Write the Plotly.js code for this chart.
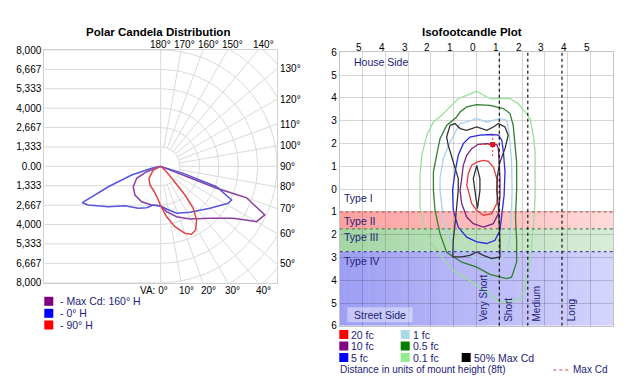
<!DOCTYPE html>
<html><head><meta charset="utf-8">
<script src="https://cdn.plot.ly/plotly-3.0.1.min.js"></script>
<style>html,body{margin:0;padding:0;background:#fff;}#chart{width:633px;height:376px;}</style>
</head><body><div id="chart"></div>
<script>
// ---------------- DATA ----------------
// Polar candela: vertical angle (deg, 0 = nadir; negative = opposite half-plane), candela
const maxCdAngles = [90, 69.0, 68.6, 69.9, 65.0, 60.0, 54.4, 43.5, 29.1, 17.6, 7.5, 0, -13.1, -28.2, -41.8, -53.3, -63.4, -68.9, -90];
const maxCdValues = [0, 1660, 4130, 6290, 7900, 7610, 6130, 4920, 4140, 3630, 3140, 2730, 2730, 2760, 2650, 2350, 1840, 1030, 0];
const h0Angles = [90, 72.8, 70.0, 64.6, 61.3, 49.6, 32.5, 18.8, 8.0, 0, -10.8, -18.7, -28.1, -42.2, -52.4, -61.9, -65.1, -68.7, -73.3, -77.5, -90];
const h0Values = [0, 1630, 4090, 5400, 5290, 4450, 3750, 3410, 2960, 2730, 2710, 3000, 3270, 3650, 4540, 5640, 5940, 3860, 2080, 630, 0];
const h90Angles = [90, 49.3, 42.6, 40.3, 37.8, 33.8, 28.8, 24.5, 19.9, 13.3, 6.8, 0, -5.4, -14.1, -29.8, -44.3, -63.4, -90];
const h90Values = [0, 390, 1280, 2580, 3650, 4440, 4990, 5130, 4890, 4260, 3490, 2730, 2210, 1800, 1480, 1150, 570, 0];
const polarNames = ['- Max Cd: 160\u00b0 H', '- 0\u00b0 H', '- 90\u00b0 H'];
const cdMax = 8000;
const cdTickLabels = ['8,000','6,667','5,333','4,000','2,667','1,333','0.00','1,333','2,667','4,000','5,333','6,667','8,000'];
const vaLabelAngles = [0,10,20,30,40,50,60,70,80,90,100,110,120,130,140,150,160,170,180];

// Isofootcandle contours (mounting heights; x lateral, y + house side / - street side)
const fc01X = [0.01,0.59,1.47,1.83,2.13,2.35,2.49,2.57,2.57,2.57,2.52,2.40,2.25,2.10,1.90,1.50,1.03,0.45,-0.43,-1.02,-1.53,-1.96,-2.33,-2.48,-2.48,-2.40,-2.18,-1.89,-1.53,-1.16,-0.80,-0.43,0.01];
const fc01Y = [4.29,3.96,3.96,3.75,3.38,3.09,2.36,1.62,0.75,-0.28,-1.37,-2.69,-3.71,-4.44,-4.83,-4.93,-4.97,-4.52,-3.93,-3.57,-2.98,-2.39,-1.52,-0.79,0.60,1.48,2.36,2.94,3.23,3.60,3.96,4.11,4.29];
const fc05X = [0.01,0.59,1.18,1.47,1.61,1.69,1.76,1.76,1.71,1.76,1.76,1.54,1.32,0.59,0.01,-0.64,-1.31,-1.60,-1.82,-1.89,-1.89,-1.75,-1.60,-1.31,-0.87,-0.72,-0.43,0.01];
const fc05Y = [3.70,3.67,3.53,3.31,2.79,2.06,1.18,-0.06,-1.23,-2.25,-3.21,-3.87,-3.93,-3.74,-3.43,-3.21,-2.78,-1.96,-0.93,-0.06,0.75,1.48,2.21,2.79,3.16,3.38,3.60,3.70];
const fc1X = [0.01,0.45,1.03,1.32,1.39,1.47,1.54,1.56,1.54,1.47,1.32,1.03,0.45,-0.43,-1.02,-1.31,-1.46,-1.60,-1.60,-1.46,-1.16,-0.94,-0.72,-0.43,0.01];
const fc1Y = [3.09,2.94,3.09,3.01,2.72,2.06,1.18,-0.06,-0.93,-2.11,-2.83,-3.13,-3.13,-2.91,-2.54,-1.81,-1.23,-0.06,0.46,1.33,2.06,2.50,2.87,2.94,3.09];
const fc5X = [0.15,0.67,0.96,1.11,1.18,1.25,1.21,1.11,1.03,0.81,0.45,0.01,-0.43,-0.80,-1.02,-1.05,-0.94,-0.80,-0.58,-0.29,0.15];
const fc5Y = [2.36,2.39,2.36,2.14,1.62,0.75,-0.28,-1.23,-1.81,-2.25,-2.39,-2.32,-2.11,-1.67,-0.93,-0.06,0.75,1.48,1.99,2.28,2.36];
const fc10X = [0.45,0.89,0.96,1.00,1.03,1.03,0.96,0.74,0.30,-0.14,-0.43,-0.65,-0.72,-0.65,-0.58,-0.43,-0.21,0.07,0.45];
const fc10Y = [1.99,1.95,1.77,1.18,0.46,-0.35,-1.08,-1.52,-1.67,-1.52,-1.23,-0.64,-0.06,0.46,1.04,1.48,1.77,1.96,1.99];
const fc20X = [0.30,0.52,0.74,0.89,0.92,0.89,0.67,0.30,0.01,-0.21,-0.36,-0.43,-0.36,-0.21,0.01,0.30];
const fc20Y = [1.26,1.21,0.96,0.46,-0.28,-0.64,-1.08,-1.15,-0.93,-0.64,-0.06,0.16,0.68,1.04,1.18,1.26];
const halfMaxX = [-1.16,-0.94,-0.72,-0.43,0.01,0.45,0.74,0.96,1.25,1.39,1.25,1.03,0.92,0.89,0.96,1.00,1.03,1.03,0.67,0.30,0.01,-0.29,-0.65,-1.04,-1.02,-0.94,-0.87,-0.80,-0.80,-1.02,-1.24,-1.31,-1.16,null,0.01,0.15,0.15,0.04,-0.07,-0.14,0.01];
const halfMaxY = [2.79,2.87,2.65,2.57,2.72,2.57,2.72,2.87,2.72,2.36,1.77,1.18,0.60,-0.06,-0.79,-1.52,-2.25,-2.98,-3.05,-2.91,-2.76,-2.91,-2.98,-2.98,-2.25,-1.52,-0.79,-0.06,0.46,1.18,1.92,2.28,2.79,null,1.04,0.46,-0.06,-0.86,-0.06,0.46,1.04];
const maxCdPoint = {x:[0.71], y:[1.95]};
const isoNames = ['20 fc','10 fc','5 fc','1 fc','0.5 fc','0.1 fc','50% Max Cd'];
const typeBounds = [1, 1.75, 2.75];           // street-side distances
const typeNames = ['Type I','Type II','Type III','Type IV'];
const rangeBounds = [1, 2.25, 3.75];
const rangeNames = ['Very Short','Short','Medium','Long'];
const isoTickVals = [-5,-4,-3,-2,-1,0,1,2,3,4,5];
const isoTickLabels = ['5','4','3','2','1','0','1','2','3','4','5'];
const isoYTickVals = [6,5,4,3,2,1,0,-1,-2,-3,-4,-5,-6];
const isoYTickLabels = ['6','5','4','3','2','1','0','1','2','3','4','5','6'];

// ---------------- LAYOUT HELPERS ----------------
const W = 633, H = 376;
const FONT = 'Liberation Sans, Arial, sans-serif';
const NAVY = '#22227a';
const px = p => p / W, py = p => 1 - p / H;
const polarDom = {x:[px(44.3), px(277)], y:[py(282.7), py(50)]};
const isoDom = {x:[px(339.7), px(613.3)], y:[py(325.8), py(52.2)]};
const GRID = '#d9d9d9';

function polarXY(angles, vals){
  const x=[], y=[];
  angles.forEach((a,i)=>{ const t=Math.abs(a)*Math.PI/180, s=a<0?-1:1; x.push(s*vals[i]*Math.sin(t)); y.push(-vals[i]*Math.cos(t)); });
  return {x,y};
}

const traces = [];
// polar grid rings and radials
const ring = cdMax/6;
const rx=[], ry=[];
for(let k=1;k<=9;k++){ for(let a=0;a<=180;a+=2){ const t=a*Math.PI/180; rx.push(k*ring*Math.sin(t)); ry.push(-k*ring*Math.cos(t)); } rx.push(null); ry.push(null); }
for(let a=10;a<=170;a+=10){ const t=a*Math.PI/180; rx.push(ring*Math.sin(t), 3*cdMax*Math.sin(t), null); ry.push(-ring*Math.cos(t), -3*cdMax*Math.cos(t), null); }
rx.push(0,0,null); ry.push(-cdMax,cdMax,null);
const cdTickVals = cdTickLabels.map((_,i)=>cdMax - i*cdMax/6);
cdTickVals.forEach(v=>{ rx.push(-cdMax,0,null); ry.push(v,v,null); });
traces.push({x:rx,y:ry,mode:'lines',line:{color:GRID,width:1},hoverinfo:'skip',xaxis:'x',yaxis:'y'});

const polarSets = [[maxCdAngles,maxCdValues,'#8b3f9f'],[h0Angles,h0Values,'#5656dc'],[h90Angles,h90Values,'#e04545']];
polarSets.forEach(([a,v,c],i)=>{ const p=polarXY(a,v); traces.push({x:p.x,y:p.y,mode:'lines',name:polarNames[i],line:{color:c,width:1.5},xaxis:'x',yaxis:'y',hoverinfo:'skip'}); });

// iso contours
const isoSets = [[fc01X,fc01Y,'#98e098'],[fc05X,fc05Y,'#2f7f2f'],[fc1X,fc1Y,'#a9d3ea'],[fc5X,fc5Y,'#2a2ae0'],[fc10X,fc10Y,'#7f1f85'],[fc20X,fc20Y,'#e83a3a'],[halfMaxX,halfMaxY,'#333333']];
isoSets.forEach(([x,y,c])=>traces.push({x,y,mode:'lines',line:{color:c,width:1.3},xaxis:'x2',yaxis:'y2',hoverinfo:'skip',connectgaps:false}));
traces.push({x:maxCdPoint.x,y:maxCdPoint.y,mode:'markers',marker:{symbol:'square',size:5,color:'#dd1111'},xaxis:'x2',yaxis:'y2',hoverinfo:'skip'});

// ---------------- SHAPES ----------------
const shapes = [];
function lerp(c1,c2,t){ return 'rgb('+c1.map((v,i)=>Math.round(v+(c2[i]-v)*t)).join(',')+')'; }
const bandColors = [[[255,160,160],[255,218,218]],[[164,214,164],[216,236,216]],[[158,158,244],[212,212,252]]];
const bandEdges = [-typeBounds[0], -typeBounds[1], -typeBounds[2], -6];
const N = 48;
for(let b=0;b<3;b++){
  for(let i=0;i<N;i++){
    const x0=-6+12*i/N, x1=-6+12*(i+1)/N+0.02;
    shapes.push({type:'rect',xref:'x2',yref:'y2',x0,x1,y0:bandEdges[b+1],y1:bandEdges[b],fillcolor:lerp(bandColors[b][0],bandColors[b][1],i/(N-1)),line:{width:0},layer:'below'});
  }
}
const typeLineColors = ['#c25a5a','#4f8a4f','#4a4aa8'];
typeBounds.forEach((b,i)=>shapes.push({type:'line',xref:'x2',yref:'y2',x0:-6,x1:6,y0:-b,y1:-b,line:{color:typeLineColors[i],width:1.2,dash:'3px,3px'}}));
rangeBounds.forEach(b=>shapes.push({type:'line',xref:'x2',yref:'y2',x0:b,x1:b,y0:-6,y1:6,line:{color:'#111',width:1.2,dash:'3px,3px'}}));
// max cd crosshair
shapes.push({type:'line',xref:'x2',yref:'y2',x0:maxCdPoint.x[0]-0.55,x1:maxCdPoint.x[0],y0:maxCdPoint.y[0],y1:maxCdPoint.y[0],line:{color:'#dd3333',width:1,dash:'2px,2px'}});
shapes.push({type:'line',xref:'x2',yref:'y2',x0:maxCdPoint.x[0],x1:maxCdPoint.x[0],y0:maxCdPoint.y[0]-0.5,y1:maxCdPoint.y[0]+0.45,line:{color:'#dd3333',width:1,dash:'2px,2px'}});
// street side box
shapes.push({type:'rect',xref:'paper',yref:'paper',x0:px(347.3),x1:px(412.7),y0:py(322.3),y1:py(307.3),fillcolor:'rgba(255,255,255,0.4)',line:{width:0}});

// ---------------- ANNOTATIONS ----------------
const annotations = [];
function A(text,x,y,o){ annotations.push(Object.assign({xref:'paper',yref:'paper',x:px(x),y:py(y),text,showarrow:false,xanchor:'left',yanchor:'middle',font:{family:FONT,size:10,color:'#000'}},o||{})); }
A('<b>Polar Candela Distribution</b>',158.3,32.3,{xanchor:'center',font:{family:FONT,size:11.5,color:'#000'}});
A('<b>Isofootcandle Plot</b>',471.7,32.3,{xanchor:'center',font:{family:FONT,size:11.5,color:'#000'}});
// iso top tick labels
isoTickVals.forEach((v,i)=>annotations.push({xref:'x2',yref:'paper',x:v,y:py(47.5),xshift:-3.5,text:isoTickLabels[i],showarrow:false,xanchor:'center',yanchor:'middle',font:{family:FONT,size:10,color:'#000'}}));
// polar angle labels
vaLabelAngles.forEach(a=>{
  const t=a*Math.PI/180; let o;
  if(a<=40){ o={xref:'x',yref:'y',x:cdMax*Math.tan(t),y:-cdMax,xanchor:'center',yanchor:'top',xshift:a===0?0:5,text:a===0?'VA: 0\u00b0':a+'\u00b0'}; if(a===0){o.xanchor='right';o.xshift=9;} }
  else if(a<140){ o={xref:'x',yref:'y',x:cdMax,y:-cdMax*Math.cos(t)/Math.sin(t),xanchor:'left',yanchor:'middle',xshift:1,text:a+'\u00b0'}; }
  else { o={xref:'x',yref:'y',x:cdMax*Math.tan(Math.PI-t),y:cdMax,xanchor:'center',yanchor:'bottom',yshift:-2,xshift:a===180?0:(a===170?3:5),text:a+'\u00b0'}; }
  o.showarrow=false; o.font={family:FONT,size:10,color:'#000'}; annotations.push(o);
});
// polar legend
const polarLegColors = ['#800080','#0000ff','#ff0000'];
const polarLegY = [301.3,313.3,325];
polarNames.forEach((n,i)=>{
  shapes.push({type:'rect',xref:'paper',yref:'paper',x0:px(44.3),x1:px(53.3),y0:py(polarLegY[i]+4.5),y1:py(polarLegY[i]-4.5),fillcolor:polarLegColors[i],line:{width:0}});
  A(n,57.5,polarLegY[i],{font:{family:FONT,size:10.5,color:NAVY}});
});
// iso labels
A('House Side',351.5,62.3,{font:{family:FONT,size:10.5,color:NAVY}});
const typeLabelY = [197.7,220.7,237.3,260.7];
typeNames.forEach((n,i)=>A(n,341.5,typeLabelY[i],{font:{family:FONT,size:10.5,color:NAVY}}));
A('Street Side',380,314.7,{xanchor:'center',font:{family:FONT,size:10.5,color:NAVY}});
const rangeLabelX = [483.3,508.3,536,571.7];
rangeNames.forEach((n,i)=>A(n,rangeLabelX[i],323.5,{xanchor:'center',yanchor:'bottom',textangle:-90,font:{family:FONT,size:10,color:NAVY}}));
// iso legend
const isoLegColors = ['#ff0000','#800080','#0000ff','#add8e6','#008000','#90ee90','#000000'];
const isoLegPos = [[339.3,334.5],[339.3,346],[339.3,357.5],[400.7,334.5],[400.7,346],[400.7,357.5],[461.7,357.5]];
isoNames.forEach((n,i)=>{
  const [x,y]=isoLegPos[i];
  shapes.push({type:'rect',xref:'paper',yref:'paper',x0:px(x),x1:px(x+9),y0:py(y+4.5),y1:py(y-4.5),fillcolor:isoLegColors[i],line:{width:0}});
  A(n,x+11,y,{borderpad:0,font:{family:FONT,size:10.5,color:NAVY}});
});
A('Distance in units of mount height (8ft)',339,369.5,{borderpad:0,font:{family:FONT,size:10,color:NAVY}});
shapes.push({type:'line',xref:'paper',yref:'paper',x0:px(553.3),x1:px(569),y0:py(370),y1:py(370),line:{color:'#d04a4a',width:1.2,dash:'3px,3px'}});
A('Max Cd',572,369.5,{borderpad:0,font:{family:FONT,size:10,color:NAVY}});

const layout = {
  width:W,height:H,margin:{l:0,r:0,t:0,b:0},paper_bgcolor:'#fff',plot_bgcolor:'rgba(0,0,0,0)',showlegend:false,
  font:{family:FONT,size:10,color:'#000'},
  xaxis:{domain:polarDom.x,range:[-cdMax,cdMax],anchor:'y',showgrid:false,zeroline:false,showticklabels:false,ticks:'',showline:true,mirror:true,linecolor:'#d0d0d0',linewidth:1,fixedrange:true},
  yaxis:{domain:polarDom.y,range:[-cdMax,cdMax],anchor:'x',tickvals:cdTickVals,ticktext:cdTickLabels,showgrid:false,zeroline:false,ticks:'',showline:true,mirror:true,linecolor:'#d0d0d0',linewidth:1,tickfont:{family:FONT,size:10,color:'#000'},fixedrange:true},
  xaxis2:{domain:isoDom.x,range:[-6,6],anchor:'y2',side:'top',tickvals:isoTickVals,showticklabels:false,showgrid:true,gridcolor:'rgba(0,0,0,0.16)',zeroline:false,ticks:'',showline:true,mirror:true,linecolor:'#c4c4c4',linewidth:1,fixedrange:true},
  yaxis2:{domain:isoDom.y,range:[-6,6],anchor:'x2',tickvals:isoYTickVals,ticktext:isoYTickLabels,showgrid:true,gridcolor:'rgba(0,0,0,0.16)',zeroline:false,ticks:'',showline:true,mirror:true,linecolor:'#c4c4c4',linewidth:1,tickfont:{family:FONT,size:10,color:'#000'},fixedrange:true},
  shapes,annotations
};
Plotly.newPlot('chart',traces,layout,{displayModeBar:false,staticPlot:true});
</script></body></html>
